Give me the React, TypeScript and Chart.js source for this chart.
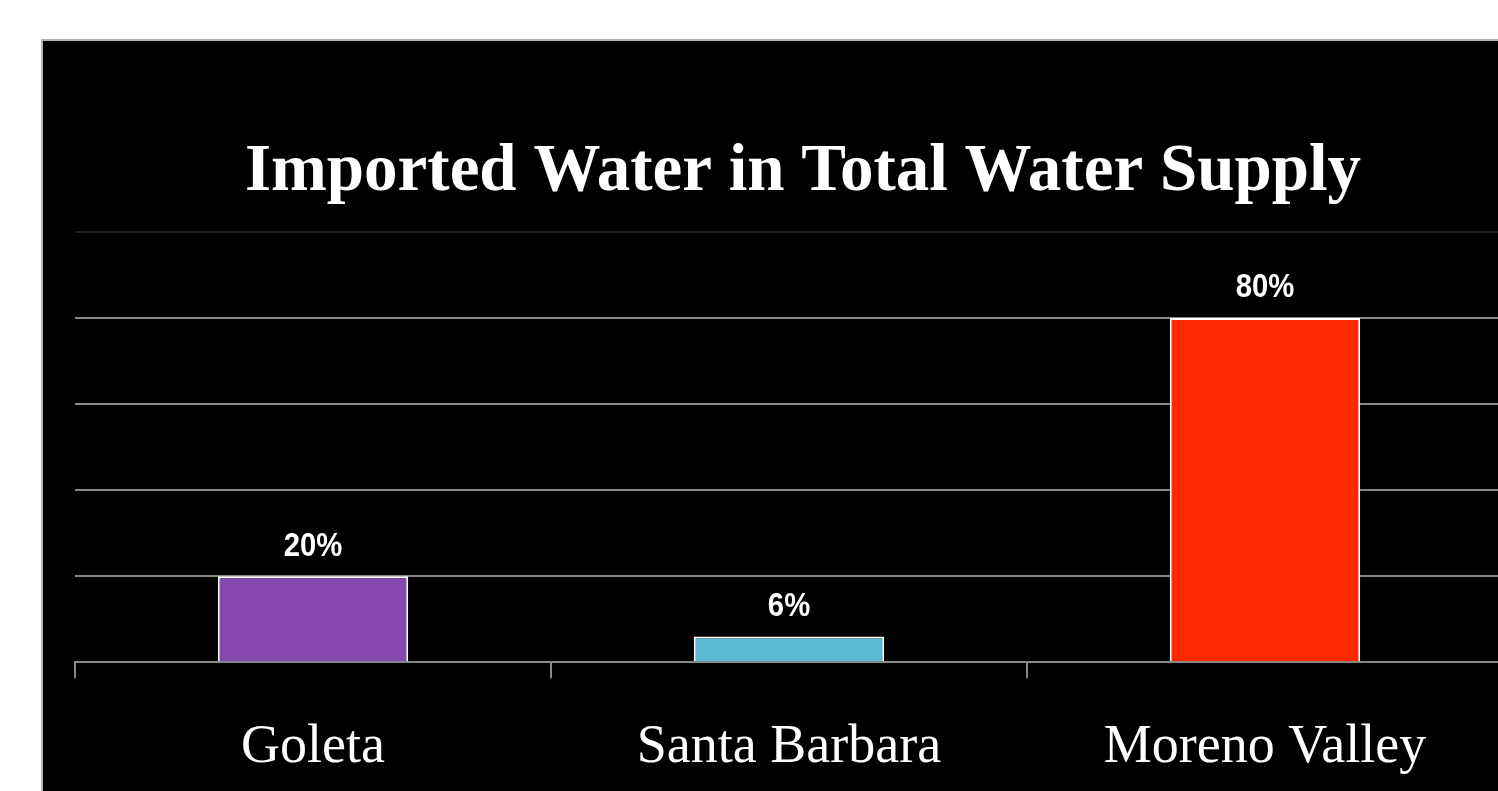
import React, { useEffect, useRef } from "react";
import { Chart, registerables } from "chart.js";

Chart.register(...registerables);

const TITLE = "Imported Water in Total Water Supply";
const categories = ["Goleta", "Santa Barbara", "Moreno Valley"];
const values = [20, 6, 80];
const barColors = ["#8549AE", "#5BB8D2", "#FF2A00"];
const yTicks = [0, 20, 40, 60, 80, 100];

const CANVAS_W = 1600;
const CANVAS_H = 831;

const titlePlugin = {
  id: "slideTitle",
  afterDraw(chart: any) {
    const ctx = chart.ctx;
    ctx.save();
    ctx.fillStyle = "#ffffff";
    ctx.font = "bold 67px 'Liberation Serif', 'Times New Roman', serif";
    ctx.textAlign = "center";
    ctx.textBaseline = "alphabetic";
    ctx.fillText(TITLE, 803, 190);
    ctx.restore();
  },
};

const valueLabelPlugin = {
  id: "valueLabels",
  afterDatasetsDraw(chart: any) {
    const ctx = chart.ctx;
    const meta = chart.getDatasetMeta(0);
    const sx = 0.86;
    meta.data.forEach((bar: any, i: number) => {
      ctx.save();
      ctx.fillStyle = "#ffffff";
      ctx.font = "bold 34px 'Liberation Sans', Arial, sans-serif";
      ctx.textAlign = "center";
      ctx.textBaseline = "middle";
      ctx.translate(bar.x, bar.y - 30);
      ctx.scale(sx, 1);
      ctx.fillText(values[i] + "%", 0, 0);
      ctx.restore();
    });
  },
};

export default function App() {
  const ref = useRef<HTMLCanvasElement | null>(null);

  useEffect(() => {
    if (!ref.current) return;
    const chart = new Chart(ref.current, {
      type: "bar",
      data: {
        labels: categories,
        datasets: [
          {
            data: values,
            backgroundColor: barColors,
            borderColor: "#ffffff",
            borderWidth: 2,
            categoryPercentage: 1,
            barPercentage: 0.4,
          },
        ],
      },
      options: {
        responsive: false,
        maintainAspectRatio: false,
        animation: false,
        layout: { padding: { left: 75, right: CANVAS_W - 1503, top: 232, bottom: 14 } },
        plugins: {
          legend: { display: false },
          title: { display: false },
          tooltip: { enabled: false },
        },
        scales: {
          x: {
            offset: true,
            border: { display: true, color: "#888888", width: 2 },
            grid: {
              offset: true,
              drawOnChartArea: false,
              drawTicks: true,
              tickLength: 16,
              color: "#888888",
              lineWidth: 2,
            },
            ticks: {
              color: "#ffffff",
              padding: 37,
              font: { family: "'Liberation Serif', 'Times New Roman', serif", size: 54 },
              maxRotation: 0,
            },
          },
          y: {
            min: 0,
            max: 100,
            afterBuildTicks: (axis: any) => {
              axis.ticks = yTicks.map((v) => ({ value: v }));
            },
            border: { display: false },
            grid: {
              drawTicks: false,
              tickLength: 0,
              lineWidth: 2,
              color: (c: any) => (c.tick && c.tick.value === 100 ? "#1e1e1e" : "#888888"),
            },
            ticks: { display: false },
          },
        },
      },
      plugins: [titlePlugin, valueLabelPlugin],
    });
    return () => chart.destroy();
  }, []);

  return (
    <div
      style={{
        position: "fixed",
        left: 0,
        top: 0,
        width: 1498,
        height: 791,
        overflow: "hidden",
        background: "#ffffff",
      }}
    >
      <div
        style={{
          position: "absolute",
          left: 41,
          top: 39,
          width: 2000,
          height: 2000,
          background: "#000000",
          borderLeft: "2px solid #b4b4b4",
          borderTop: "2px solid #b4b4b4",
        }}
      />
      <canvas
        ref={ref}
        width={CANVAS_W}
        height={CANVAS_H}
        style={{ position: "absolute", left: 0, top: 0, width: CANVAS_W, height: CANVAS_H }}
      />
    </div>
  );
}
